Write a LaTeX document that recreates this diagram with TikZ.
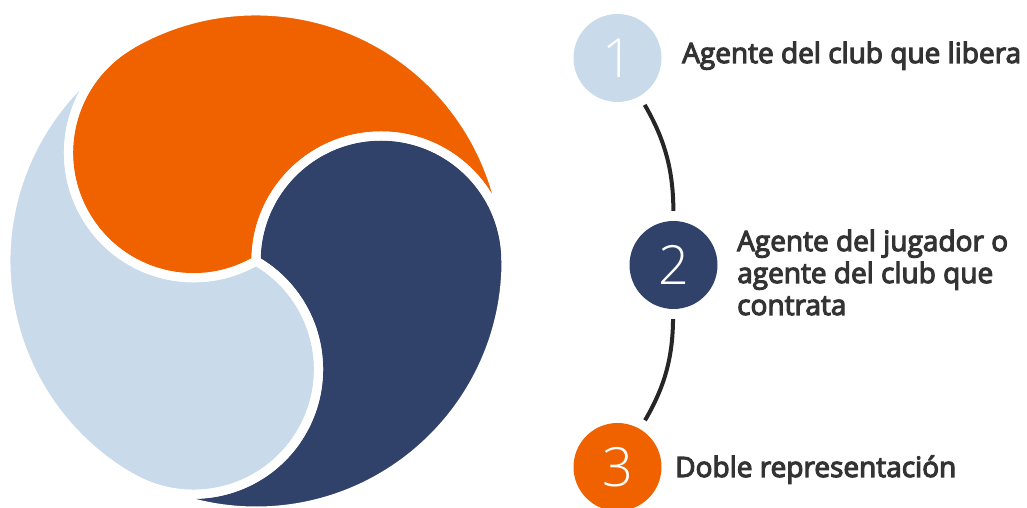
\documentclass[tikz,border=0pt]{standalone}
\usepackage{fontspec}
\setmainfont{Open Sans}
\IfFontExistsTF{Open Sans SemiBold}
  {\newfontfamily\labelfont{Open Sans SemiBold}}
  {\newfontfamily\labelfont[FakeBold=4]{Open Sans}}
\IfFontExistsTF{Open Sans Light}
  {\newfontfamily\numfont{Open Sans Light}}
  {\IfFontExistsTF{Fira Sans Light}
    {\newfontfamily\numfont{Fira Sans Light}}
    {\newfontfamily\numfont{Open Sans}}}
\definecolor{tomoeOrange}{RGB}{240,98,0}
\definecolor{tomoeNavy}{RGB}{49,66,106}
\definecolor{tomoeLight}{RGB}{201,219,235}
\definecolor{labelGray}{RGB}{51,51,51}
\definecolor{linkGray}{RGB}{38,38,38}
\begin{document}
\begin{tikzpicture}[x=1pt,y=1pt,
  stepdot/.style={circle, minimum size=88pt, inner sep=0pt, text=white,
    font=\numfont\fontsize{54}{54}\selectfont},
  steplabel/.style={anchor=base west, inner sep=0pt, text=labelGray, align=left,
    font=\labelfont\fontsize{28}{32}\selectfont},
  link/.style={draw=linkGray, line width=4pt, shorten >=10pt, shorten <=10pt},
  sep/.style={draw=white, line width=9pt, line join=round}
]
\useasboundingbox (0,0) rectangle (1027,508);
\coordinate (C) at (256,247);

% three tomoe commas: outer arc, neighbour's head arc, own head arc
\foreach \col/\rot in {tomoeOrange/0, tomoeNavy/-120, tomoeLight/120}
  \fill[\col, rotate around={\rot:(C)}]
    (C) ++(120:250) arc[start angle=120, end angle=0, radius=250]
    arc[start angle=0, end angle=180, radius=125]
    arc[start angle=300, end angle=120, radius=125] -- cycle;
\foreach \rot in {0,-120,120}
  \draw[sep, rotate around={\rot:(C)}]
    (C) ++(120:250) arc[start angle=120, end angle=0, radius=250]
    arc[start angle=0, end angle=180, radius=125]
    arc[start angle=300, end angle=120, radius=125] -- cycle;

% numbered steps
\node[stepdot, fill=tomoeLight]  (s1) at (617.5,450) {1};
\node[stepdot, fill=tomoeNavy]   (s2) at (673.5,243) {2};
\node[stepdot, fill=tomoeOrange] (s3) at (617.5,41)  {3};

\draw[link] (s1) to[bend left=15] (s2);
\draw[link] (s2) to[bend left=15] (s3);

% labels (a multi-line label sits on the baseline of its last line)
\node[steplabel] (t1) at (682,445) {Agente del club que libera};
\node[steplabel] (t2) at (737,193) {Agente del jugador o\\agente del club que\\contrata};
\node[steplabel] (t3) at (675,31)  {Doble representación};
\end{tikzpicture}
\end{document}
